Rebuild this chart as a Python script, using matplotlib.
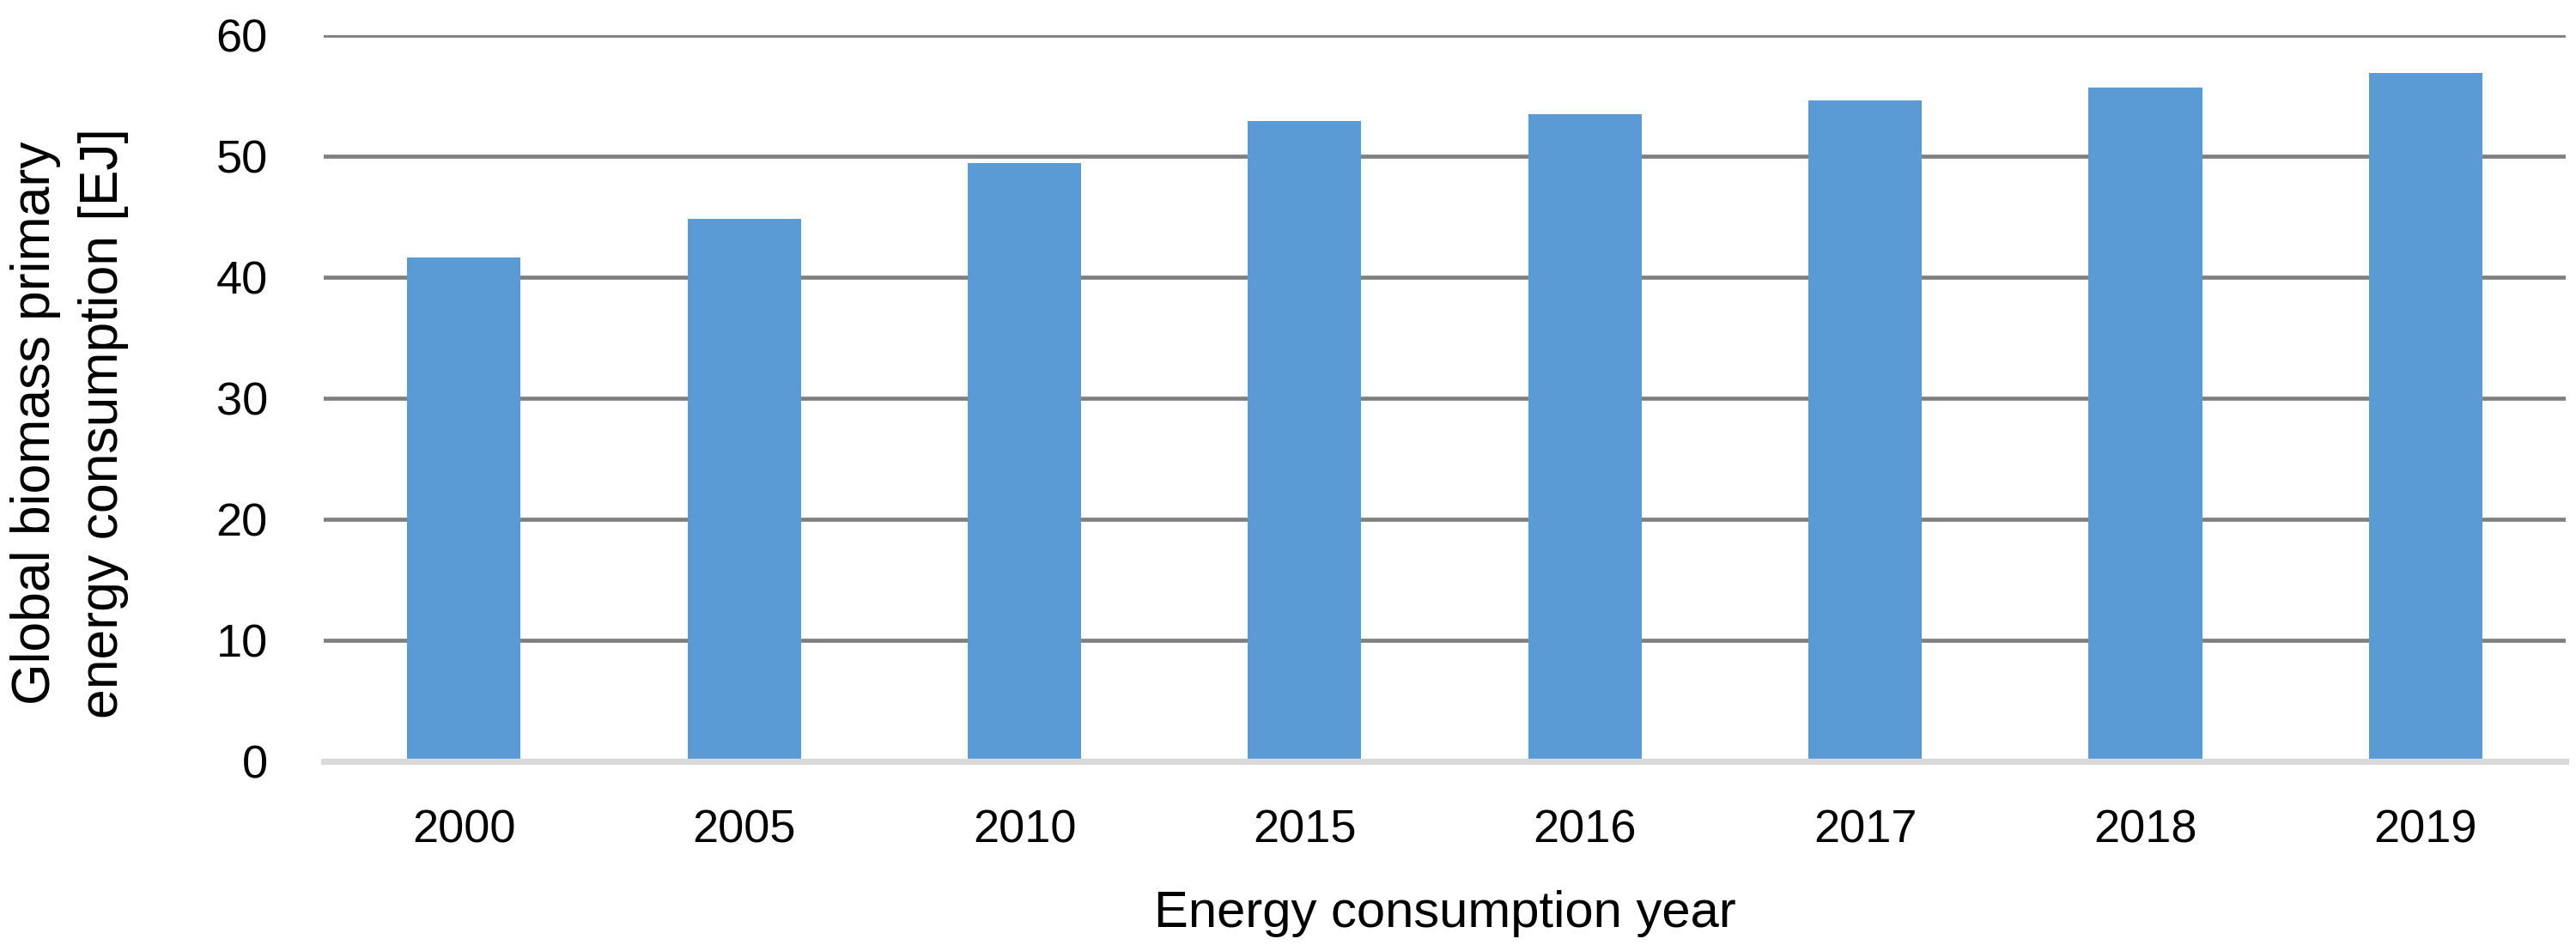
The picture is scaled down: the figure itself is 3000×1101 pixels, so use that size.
import matplotlib
matplotlib.use("Agg")
import matplotlib.pyplot as plt

# Data
years = ["2000", "2005", "2010", "2015", "2016", "2017", "2018", "2019"]
consumption_ej = [41.6, 44.8, 49.4, 52.9, 53.5, 54.6, 55.7, 56.9]
y_ticks = [0, 10, 20, 30, 40, 50, 60]

BAR_COLOR = "#5B9BD5"
GRID_COLOR = "#808080"
AXIS_COLOR = "#D9D9D9"

plt.rcParams['font.family'] = ['Liberation Sans', 'DejaVu Sans']

fig = plt.figure(figsize=(30, 11.01), dpi=100)
ax = fig.add_axes([0.1257, 0.1944, 0.8703, 0.7684])

x = range(len(years))
ax.bar(x, consumption_ej, width=0.405, color=BAR_COLOR, zorder=2)

ax.set_ylim(0, 60)
ax.set_xlim(-0.5, len(years) - 0.5)
ax.set_yticks(y_ticks)
ax.set_xticks(list(x))
ax.set_xticklabels(years)

# gridlines (excluding 0, which is the axis line)
for t in y_ticks[1:]:
    ax.axhline(t, color=GRID_COLOR, linewidth=3.4, zorder=1)

for side in ["top", "right", "left"]:
    ax.spines[side].set_visible(False)
ax.spines["bottom"].set_color(AXIS_COLOR)
ax.spines["bottom"].set_linewidth(5.2)
ax.spines["bottom"].set_zorder(3)

ax.tick_params(axis="both", length=0, labelsize=39, colors="black")
ax.tick_params(axis="y", pad=47)
ax.tick_params(axis="x", pad=40)

ax.set_xlabel("Energy consumption year", fontsize=43, labelpad=32)
fig.text(0.027, 0.552, "Global biomass primary\nenergy consumption [EJ]",
         rotation=90, fontsize=45, ha="center", va="center", linespacing=1.45)

fig.savefig("out.png", dpi=100)
